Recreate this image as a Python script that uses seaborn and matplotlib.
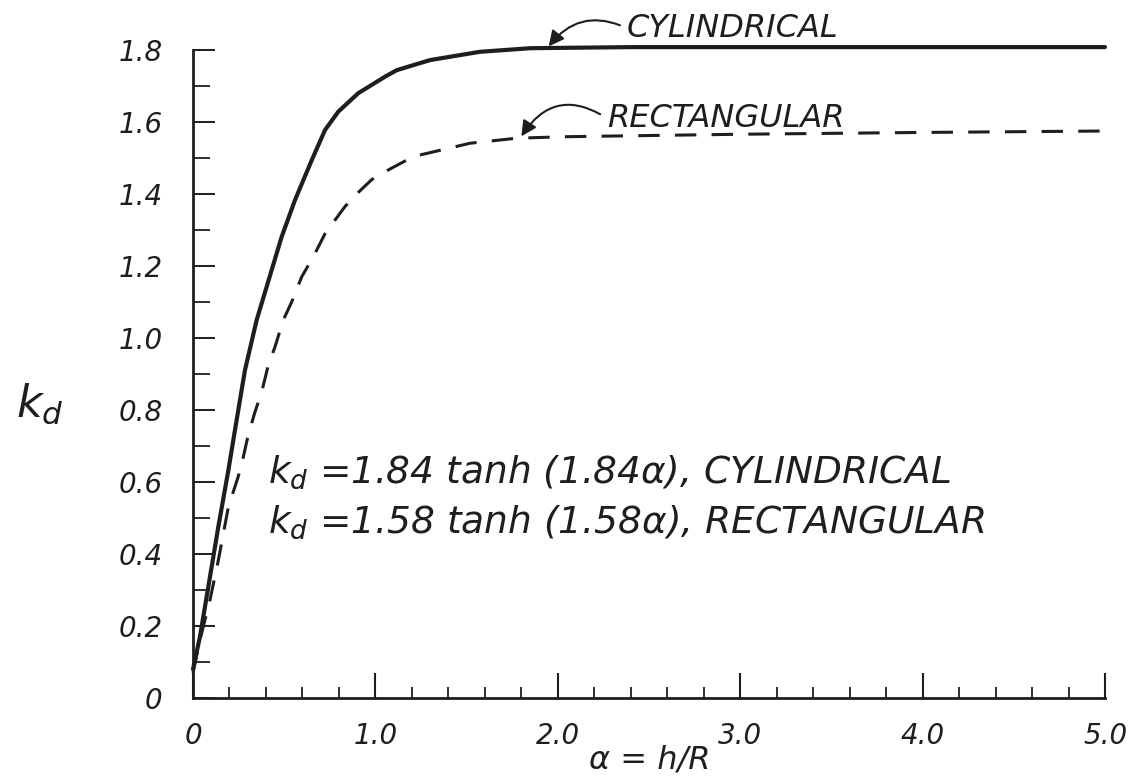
import numpy as np
import pandas as pd
import matplotlib
matplotlib.use("Agg")
import matplotlib.pyplot as plt
import seaborn as sns

# ---- data ----
cyl_alpha = [0.0, 0.038, 0.084, 0.139, 0.194, 0.230, 0.285, 0.349, 0.486, 0.559, 0.651,
             0.724, 0.797, 0.906, 1.053, 1.117, 1.30, 1.573, 1.85, 2.4, 3.0, 4.0, 5.0]
cyl_kd    = [0.08, 0.170, 0.309, 0.476, 0.633, 0.744, 0.911, 1.05, 1.281, 1.383, 1.494,
             1.578, 1.629, 1.680, 1.726, 1.744, 1.772, 1.795, 1.805, 1.808, 1.808, 1.808, 1.808]

rect_alpha = [0.0, 0.038, 0.093, 0.139, 0.194, 0.248, 0.276, 0.303, 0.34, 0.377, 0.413, 0.45,
              0.495, 0.541, 0.596, 0.66, 0.724, 0.833, 0.897, 0.98, 1.053, 1.208, 1.519, 1.775,
              2.03, 2.30, 3.0, 4.0, 5.0]
rect_kd    = [0.07, 0.161, 0.272, 0.383, 0.531, 0.615, 0.670, 0.731, 0.795, 0.851, 0.925, 0.976,
              1.05, 1.10, 1.17, 1.226, 1.29, 1.365, 1.40, 1.44, 1.462, 1.504, 1.541, 1.555,
              1.559, 1.561, 1.566, 1.571, 1.575]

x_ticks = [0, 1.0, 2.0, 3.0, 4.0, 5.0]
x_tick_labels = ["0", "1.0", "2.0", "3.0", "4.0", "5.0"]
y_ticks = [0, 0.2, 0.4, 0.6, 0.8, 1.0, 1.2, 1.4, 1.6, 1.8]
y_tick_labels = ["0", "0.2", "0.4", "0.6", "0.8", "1.0", "1.2", "1.4", "1.6", "1.8"]

eq_cyl = "$k_d$ =1.84 tanh (1.84α), CYLINDRICAL"
eq_rect = "$k_d$ =1.58 tanh (1.58α), RECTANGULAR"

df = pd.concat([
    pd.DataFrame({"alpha": cyl_alpha, "kd": cyl_kd, "shape": "CYLINDRICAL"}),
    pd.DataFrame({"alpha": rect_alpha, "kd": rect_kd, "shape": "RECTANGULAR"}),
])

sns.set_style("ticks")
plt.rcParams["font.family"] = ["DejaVu Sans"]
plt.rcParams["mathtext.fontset"] = "dejavusans"
plt.rcParams["mathtext.default"] = "it"

ink = "#1e1e1e"
fig = plt.figure(figsize=(11.39, 7.79), dpi=100)
ax = fig.add_axes([193/1139, 81/779, 912/1139, 648/779])

sns.lineplot(data=df[df["shape"] == "CYLINDRICAL"], x="alpha", y="kd", ax=ax,
             color=ink, lw=3.0, sort=False, estimator=None)
sns.lineplot(data=df[df["shape"] == "RECTANGULAR"], x="alpha", y="kd", ax=ax,
             color=ink, lw=2.2, sort=False, estimator=None)
ax.lines[1].set_dashes([7, 5])
for ln in ax.lines:
    ln.set_clip_on(False)
    ln.set_solid_joinstyle("round")
    ln.set_dash_joinstyle("round")

ax.set_xlim(0, 5.0)
ax.set_ylim(0, 1.8)
sns.despine(ax=ax)
for s in ["left", "bottom"]:
    ax.spines[s].set_linewidth(2.0)
    ax.spines[s].set_color(ink)

ax.set_xticks(x_ticks)
ax.set_xticklabels(x_tick_labels, fontsize=20, style="italic", color=ink)
ax.set_xticks(np.arange(0, 5.01, 0.2), minor=True)
ax.set_yticks(y_ticks)
ax.set_yticklabels(y_tick_labels, fontsize=20, style="italic", color=ink)
ax.set_yticks(np.arange(0, 1.81, 0.1), minor=True)
ax.tick_params(axis="x", which="major", direction="in", length=18, width=1.5, pad=17, colors=ink)
ax.tick_params(axis="x", which="minor", direction="in", length=8, width=1.3, colors=ink)
ax.tick_params(axis="y", which="major", direction="in", length=16, width=1.4, pad=22, colors=ink)
ax.tick_params(axis="y", which="minor", direction="in", length=12, width=1.3, colors=ink)

ax.set_xlabel("α = h/R", fontsize=23, style="italic", color=ink, va="bottom")
ax.xaxis.set_label_coords(0.501, -0.120)
ax.set_ylabel("$k_d$", fontsize=32, rotation=0, color=ink)
ax.yaxis.set_label_coords(-0.168, 0.42)

ax.text(0.41, 0.597, eq_cyl, fontsize=27, style="italic", color=ink)
ax.text(0.41, 0.458, eq_rect, fontsize=27, style="italic", color=ink)

ax.annotate("CYLINDRICAL", xy=(1.95, 1.81), xytext=(2.38, 1.86),
            fontsize=23, style="italic", color=ink, va="center", annotation_clip=False,
            arrowprops=dict(arrowstyle="-|>", color=ink, lw=1.5, relpos=(0, 0.5),
                            connectionstyle="arc3,rad=0.4", shrinkA=3, shrinkB=0))
ax.annotate("RECTANGULAR", xy=(1.8, 1.56), xytext=(2.27, 1.61),
            fontsize=23, style="italic", color=ink, va="center", annotation_clip=False,
            arrowprops=dict(arrowstyle="-|>", color=ink, lw=1.5, relpos=(0, 0.5),
                            connectionstyle="arc3,rad=0.5", shrinkA=3, shrinkB=0))

fig.savefig("out.png", dpi=100, facecolor="white")
